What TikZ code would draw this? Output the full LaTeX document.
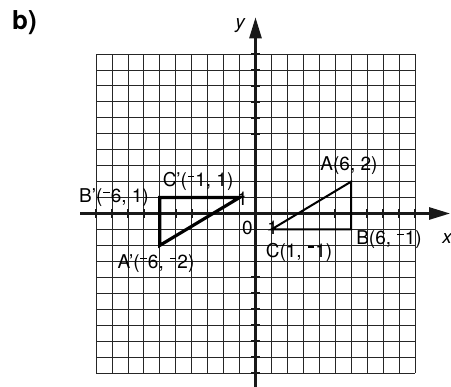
\documentclass[tikz,border=0pt]{standalone}
\usepackage{fontspec}
\setmainfont{TeX Gyre Heros}
\usetikzlibrary{arrows.meta}
\newcommand{\nm}{\kern0.04em\rule[0.5em]{0.34em}{0.07em}\kern0.06em}
\begin{document}
\begin{tikzpicture}[
  gridline/.style={line width=0.8pt, black!85},
  axisline/.style={line width=2.6pt, black!90, -{Triangle[length=21pt,width=12pt]}},
  tickmark/.style={line width=1.6pt, black!90},
  lbl/.style={font=\fontsize{19}{19}\selectfont, inner sep=0pt},
  axlbl/.style={font=\fontsize{19}{19}\selectfont\itshape, inner sep=0pt},
  thintri/.style={line width=2pt, black},
  thicktri/.style={line width=3.2pt, black}
]
\useasboundingbox (0,0) rectangle (451pt,387pt);
\node[font=\fontsize{26}{26}\selectfont\bfseries, inner sep=0pt] (title) at (24.5pt,364.5pt) {b)};
\begin{scope}[shift={(255.5pt,173.5pt)}, x=15.95pt, y=15.95pt]
  \draw[gridline, step=1] (-10,-10) grid (10,10);
  \coordinate (xs) at (-11,0);
  \coordinate (xe) at (12.2,0);
  \coordinate (ys) at (0,-10.9);
  \coordinate (ye) at (0,12.3);
  \draw[axisline] (xs) -- (xe);
  \draw[axisline] (ys) -- (ye);
  \foreach \i in {-10,...,-1,1,2,...,10} {
    \draw[tickmark] (\i,-0.28) -- (\i,0.28);
    \draw[tickmark] (-0.28,\i) -- (0.28,\i);
  }
  \coordinate (A) at (6,2);
  \coordinate (B) at (6,-1);
  \coordinate (C) at (1,-1);
  \coordinate (A') at (-6,-2);
  \coordinate (B') at (-6,1);
  \coordinate (C') at (-1,1);
  \draw[thintri] (A) -- (B) -- (C) -- cycle;
  \draw[thicktri] (A') -- (B') -- (C') -- cycle;
  \node[lbl] (lA) at (5.86,2.98) {A(6, 2)};
  \node[lbl] (lB) at (8.37,-1.66) {B(6, \nm1)};
  \node[lbl] (lC) at (2.73,-2.41) {C(1, \nm1)};
  \node[lbl] (lAp) at (-6.24,-3.17) {A'(\nm6, \nm2)};
  \node[lbl] (lBp) at (-8.87,0.97) {B'(\nm6, 1)};
  \node[lbl] (lCp) at (-3.6,2.0) {C'(\nm1, 1)};
  \node[lbl] (zero) at (-0.5,-0.88) {0};
  \node[lbl] (oney) at (-0.82,0.91) {1};
  \node[lbl] (onex) at (1.07,-0.91) {1};
  \node[axlbl] (ylab) at (-0.97,11.78) {y};
  \node[axlbl, anchor=west] (xlab) at (11.7,-1.6) {x};
\end{scope}
\end{tikzpicture}
\end{document}
